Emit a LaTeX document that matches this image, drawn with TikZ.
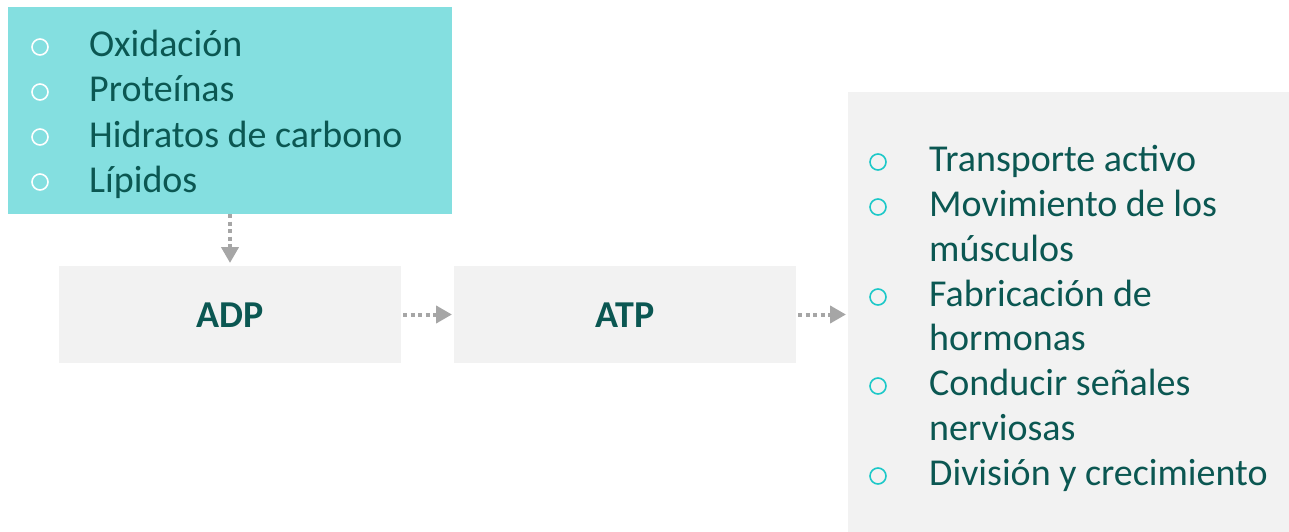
\documentclass[tikz,border=0pt]{standalone}
\usepackage{fontspec}
\setmainfont{Carlito}
\usetikzlibrary{arrows.meta}
\definecolor{tealfill}{HTML}{84DFE0}
\definecolor{grayfill}{HTML}{F2F2F2}
\definecolor{txt}{HTML}{0B5752}
\definecolor{arrowgray}{HTML}{A6A6A6}
\definecolor{bulletcyan}{HTML}{1CC8C8}
\begin{document}
\begin{tikzpicture}[x=1pt,y=-1pt,
  box/.style={draw=none,inner sep=0pt,outer sep=0pt,anchor=north west},
  item/.style={anchor=base west,inner sep=0pt,text=txt,font=\fontsize{38}{45}\selectfont},
  bul/.style={draw,line width=1.6pt,circle,minimum size=16pt,inner sep=0pt},
  flow/.style={draw=arrowgray,line width=4pt,dash pattern=on 4pt off 3.5pt,
    -{Triangle[length=16pt,width=17pt,color=arrowgray]},shorten >=0pt}]
\useasboundingbox (0,0) rectangle (1289,532);
% boxes
\node[box,fill=tealfill,minimum width=444pt,minimum height=207pt] (src) at (8,7) {};
\node[box,fill=grayfill,minimum width=342pt,minimum height=97pt] (adp) at (59,266) {};
\node[box,fill=grayfill,minimum width=342pt,minimum height=97pt] (atp) at (454,266) {};
\node[box,fill=grayfill,minimum width=441pt,minimum height=440pt] (use) at (848,92) {};
% labels in middle boxes
\node[item,anchor=base,font=\fontsize{38}{45}\selectfont\bfseries] (adpt) at (230,327) {ADP};
\node[item,anchor=base,font=\fontsize{38}{45}\selectfont\bfseries] (atpt) at (625,327) {ATP};
% left list
\foreach \t [count=\i from 0] in {Oxidación,Proteínas,Hidratos de carbono,Lípidos}{
  \node[item] (l\i) at (89,57+45*\i) {\t};
  \node[bul,draw=white] (lb\i) at (40,47+45*\i) {};
}
% right list
\node[item] (r0) at (929,171) {Transporte activo};
\node[item] (r1) at (929,216) {Movimiento de los};
\node[item] (r2) at (929,261) {músculos};
\node[item] (r3) at (929,306) {Fabricación de};
\node[item] (r4) at (929,350) {hormonas};
\node[item] (r5) at (929,395) {Conducir señales};
\node[item] (r6) at (929,440) {nerviosas};
\node[item] (r7) at (929,485) {División y crecimiento};
\foreach \k/\y in {0/162,1/207,3/297,5/386,7/476}{
  \node[bul,draw=bulletcyan] (rb\k) at (878,\y) {};
}
% connectors
\coordinate (c1) at (230,215);
\coordinate (c2) at (230,263);
\draw[flow] (src.south west -| c1) -- (c2);
\draw[flow] ([xshift=2pt]adp.east) -- ([xshift=-2pt]atp.west);
\draw[flow] ([xshift=2pt]atp.east) -- ([xshift=-2pt]use.west |- atp.east);
\end{tikzpicture}
\end{document}
